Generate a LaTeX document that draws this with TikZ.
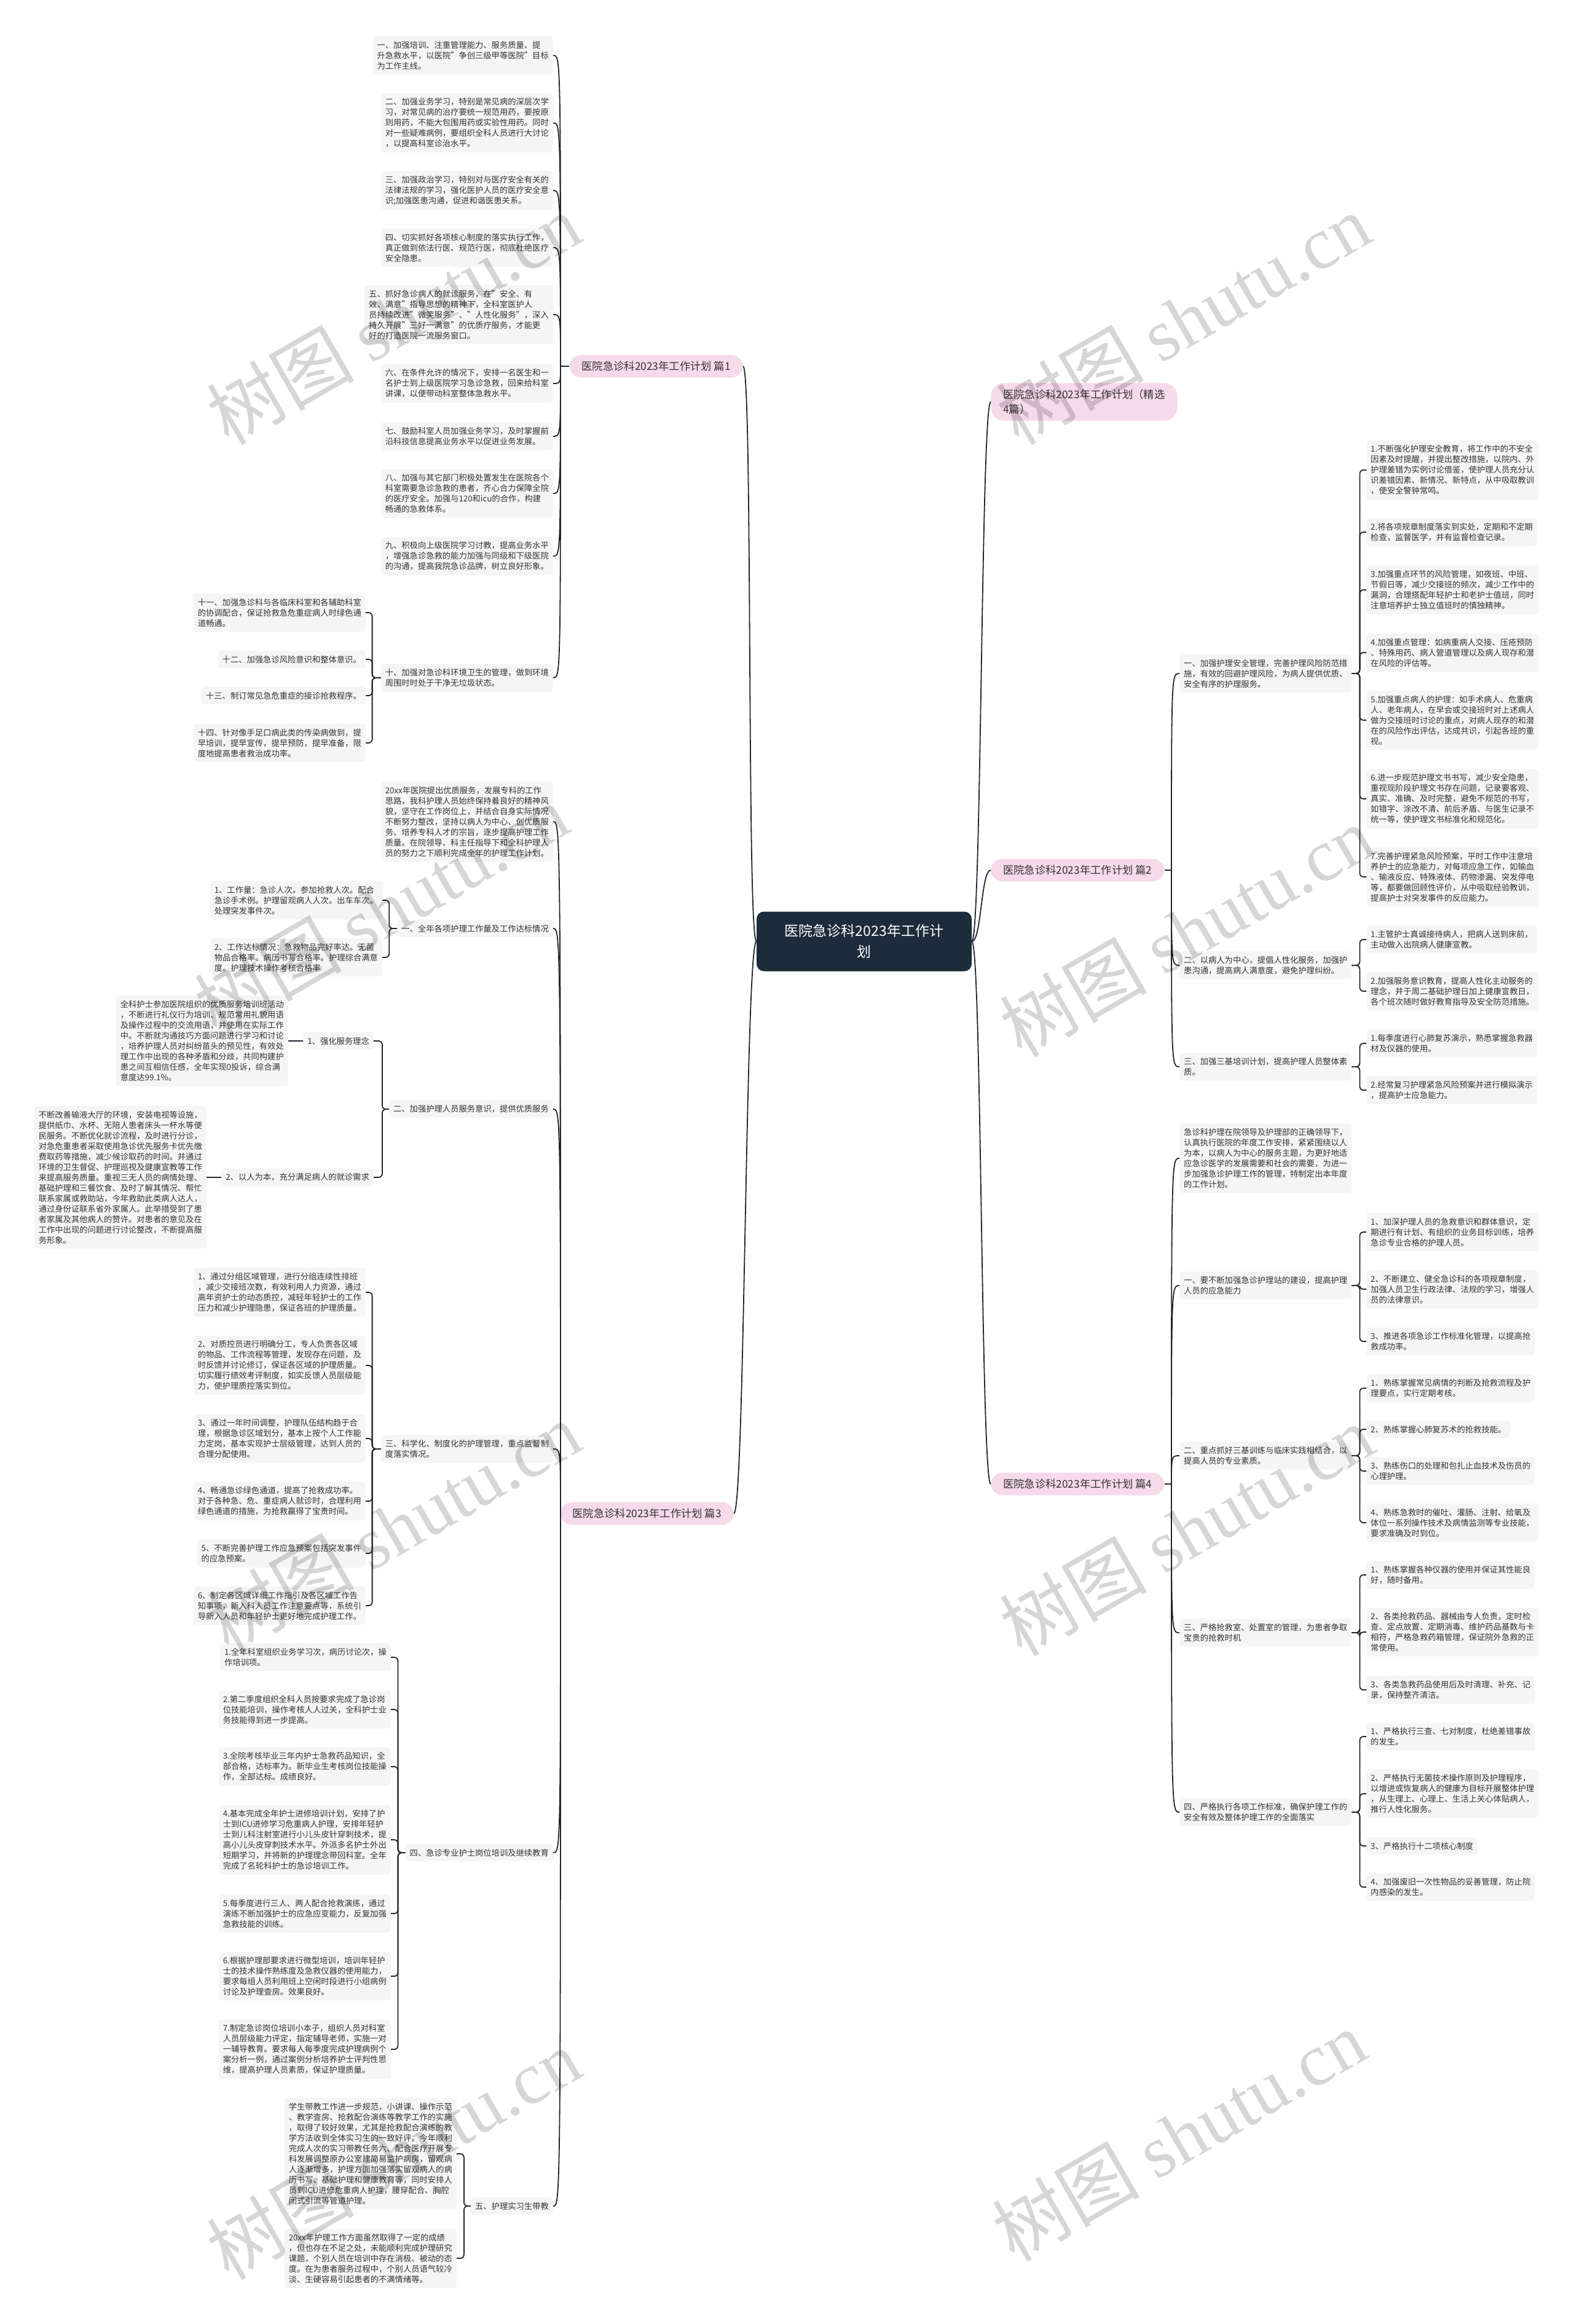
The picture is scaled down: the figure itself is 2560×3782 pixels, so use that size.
\documentclass[tikz,border=0pt]{standalone}
\usepackage{fontspec}
\setmainfont{Noto Sans CJK SC}
\newfontfamily\wmcjk{Noto Sans CJK SC}
\newfontfamily\wmlat{Liberation Serif}
\definecolor{boxgray}{HTML}{F5F5F5}
\definecolor{pinkc}{HTML}{F6DAEA}
\definecolor{navyc}{HTML}{1E2B3B}
\definecolor{linec}{HTML}{1F2630}
\definecolor{textc}{HTML}{333333}
\tikzset{
  leaf/.style={fill=boxgray, rounded corners=5pt, inner xsep=7pt, inner ysep=8pt, align=left, text=textc, font=\fontsize{13.3}{17}\selectfont},
  leafL/.style={leaf, anchor=east},
  leafR/.style={leaf, anchor=west},
  pill/.style={fill=pinkc, rounded corners=19pt, inner xsep=20pt, inner ysep=10.3pt, text=textc, font=\fontsize{17.3}{24}\selectfont},
  rootbox/.style={fill=navyc, text=white, rounded corners=12pt, minimum width=350pt, minimum height=97pt, align=center, font=\fontsize{23}{34}\selectfont},
  conn/.style={draw=linec, line width=1.8pt},
  brk/.style={conn, rounded corners=6pt},
  wm/.style={rotate=30, text=black, text opacity=0.16, font=\fontsize{120}{120}\selectfont}
}
\begin{document}
\begin{tikzpicture}[x=1pt,y=-1pt]
\fill[white] (0,0) rectangle (2560,3782);
\useasboundingbox (0,0) rectangle (2560,3782);

% ---------- root and branches ----------
\node[rootbox] (root) at (1406,1532) {医院急诊科2023年工作计\\划};
\node[pill, anchor=east] (p1) at (1209,596) {医院急诊科2023年工作计划 篇1};
\node[pill, anchor=east] (p3) at (1194,2463) {医院急诊科2023年工作计划 篇3};
\node[pill, anchor=west, align=left, rounded corners=21pt] (p0) at (1612,654) {医院急诊科2023年工作计划（精选\\4篇）};
\node[pill, anchor=west] (p2) at (1612,1416) {医院急诊科2023年工作计划 篇2};
\node[pill, anchor=west] (p4) at (1612,2415) {医院急诊科2023年工作计划 篇4};

% ---------- 篇1 ----------
\node[leafL] (a1) at (900,90) {一、加强培训、注重管理能力、服务质量、提\\升急救水平，以医院"争创三级甲等医院"目标\\为工作主线。};
\node[leafL] (a2) at (900,200) {二、加强业务学习，特别是常见病的深层次学\\习，对常见病的治疗要统一规范用药，要按原\\则用药，不能大包围用药或实验性用药。同时\\对一些疑难病例，要组织全科人员进行大讨论\\，以提高科室诊治水平。};
\node[leafL] (a3) at (900,310) {三、加强政治学习，特别对与医疗安全有关的\\法律法规的学习，强化医护人员的医疗安全意\\识;加强医患沟通，促进和谐医患关系。};
\node[leafL] (a4) at (900,403) {四、切实抓好各项核心制度的落实执行工作，\\真正做到依法行医、规范行医，彻底杜绝医疗\\安全隐患。};
\node[leafL] (a5) at (900,512) {五、抓好急诊病人的就诊服务，在"安全、有\\效、满意"指导思想的精神下，全科室医护人\\员持续改进"微笑服务"、"人性化服务"，深入\\持久开展"三好一满意"的优质疗服务，才能更\\好的打造医院一流服务窗口。};
\node[leafL] (a6) at (900,624) {六、在条件允许的情况下，安排一名医生和一\\名护士到上级医院学习急诊急救，回来给科室\\讲课，以便带动科室整体急救水平。};
\node[leafL] (a7) at (900,710) {七、鼓励科室人员加强业务学习，及时掌握前\\沿科技信息提高业务水平以促进业务发展。};
\node[leafL] (a8) at (900,803) {八、加强与其它部门积极处置发生在医院各个\\科室需要急诊急救的患者，齐心合力保障全院\\的医疗安全。加强与120和icu的合作，构建\\畅通的急救体系。};
\node[leafL] (a9) at (900,905) {九、积极向上级医院学习讨教，提高业务水平\\，增强急诊急救的能力加强与同级和下级医院\\的沟通，提高我院急诊品牌，树立良好形象。};
\node[leafL] (a10) at (900,1103) {十、加强对急诊科环境卫生的管理，做到环境\\周围时时处于干净无垃圾状态。};
\node[leafL] (a11) at (595,997) {十一、加强急诊科与各临床科室和各辅助科室\\的协调配合，保证抢救急危重症病人时绿色通\\道畅通。};
\node[leafL] (a12) at (595,1073) {十二、加强急诊风险意识和整体意识。};
\node[leafL] (a13) at (595,1132) {十三、制订常见急危重症的接诊抢救程序。};
\node[leafL] (a14) at (595,1209) {十四、针对像手足口病此类的传染病做到，提\\早培训，提早宣传，提早预防，提早准备，限\\度地提高患者救治成功率。};

% ---------- 篇3 ----------
\node[leafL] (c0) at (900,1337) {20xx年医院提出优质服务，发展专科的工作\\思路，我科护理人员始终保持着良好的精神风\\貌，坚守在工作岗位上，并结合自身实际情况\\不断努力整改，坚持以病人为中心、创优质服\\务、培养专科人才的宗旨，逐步提高护理工作\\质量。在院领导、科主任指导下和全科护理人\\员的努力之下顺利完成全年的护理工作计划。};
\node[leafL] (c1) at (900,1511) {一、全年各项护理工作量及工作达标情况};
\node[leafL] (c11) at (622,1465) {1、工作量：急诊人次。参加抢救人次。配合\\急诊手术例。护理留观病人人次。出车车次。\\处理突发事件次。};
\node[leafL] (c12) at (622,1558) {2、工作达标情况：急救物品完好率达。无菌\\物品合格率。病历书写合格率。护理综合满意\\度。护理技术操作考核合格率};
\node[leafL] (c2) at (900,1805) {二、加强护理人员服务意识，提供优质服务};
\node[leafL] (c21) at (608,1694) {1、强化服务理念};
\node[leafL] (c211) at (469,1694) {全科护士参加医院组织的优质服务培训班活动\\，不断进行礼仪行为培训、规范常用礼貌用语\\及操作过程中的交流用语，并使用在实际工作\\中。不断就沟通技巧方面问题进行学习和讨论\\，培养护理人员对纠纷苗头的预见性，有效处\\理工作中出现的各种矛盾和分歧，共同构建护\\患之间互相信任感，全年实现0投诉，综合满\\意度达99.1\%。};
\node[leafL] (c22) at (608,1916) {2、以人为本，充分满足病人的就诊需求};
\node[leafL] (c221) at (336,1916) {不断改善输液大厅的环境，安装电视等设施，\\提供纸巾、水杯、无陪人患者床头一杯水等便\\民服务。不断优化就诊流程，及时进行分诊，\\对急危重患者采取使用急诊优先服务卡优先缴\\费取药等措施，减少候诊取药的时间。并通过\\环境的卫生督促、护理巡视及健康宣教等工作\\来提高服务质量。重视三无人员的病情处理、\\基础护理和三餐饮食、及时了解其情况、帮忙\\联系家属或救助站，今年救助此类病人达人，\\通过身份证联系省外家属人。此举措受到了患\\者家属及其他病人的赞许。对患者的意见及在\\工作中出现的问题进行讨论整改，不断提高服\\务形象。};
\node[leafL] (c3) at (900,2358) {三、科学化、制度化的护理管理，重点监督制\\度落实情况。};
\node[leafL] (c31) at (595,2103) {1、通过分组区域管理，进行分组连续性排班\\，减少交接班次数，有效利用人力资源，通过\\高年资护士的动态质控，减轻年轻护士的工作\\压力和减少护理隐患，保证各班的护理质量。};
\node[leafL] (c32) at (595,2222) {2、对质控员进行明确分工，专人负责各区域\\的物品、工作流程等管理，发现存在问题，及\\时反馈并讨论修订，保证各区域的护理质量。\\切实履行绩效考评制度，如实反馈人员层级能\\力，使护理质控落实到位。};
\node[leafL] (c33) at (595,2341) {3、通过一年时间调整，护理队伍结构趋于合\\理，根据急诊区域划分，基本上按个人工作能\\力定岗，基本实现护士层级管理，达到人员的\\合理分配使用。};
\node[leafL] (c34) at (595,2443) {4、畅通急诊绿色通道，提高了抢救成功率。\\对于各种急、危、重症病人就诊时，合理利用\\绿色通道的措施，为抢救赢得了宝贵时间。};
\node[leafL] (c35) at (595,2528) {5、不断完善护理工作应急预案包括突发事件\\的应急预案。};
\node[leafL] (c36) at (595,2613) {6、制定各区域详细工作指引及各区域工作告\\知事项，新入科人员工作注意要点等，系统引\\导新入人员和年轻护士更好地完成护理工作。};
\node[leafL] (c4) at (900,3015) {四、急诊专业护士岗位培训及继续教育};
\node[leafL] (c41) at (636,2697) {1.全年科室组织业务学习次，病历讨论次，操\\作培训项。};
\node[leafL] (c42) at (636,2782) {2.第二季度组织全科人员按要求完成了急诊岗\\位技能培训，操作考核人人过关，全科护士业\\务技能得到进一步提高。};
\node[leafL] (c43) at (636,2875) {3.全院考核毕业三年内护士急救药品知识，全\\部合格，达标率为。新毕业生考核岗位技能操\\作，全部达标。成绩良好。};
\node[leafL] (c44) at (636,2994) {4.基本完成全年护士进修培训计划，安排了护\\士到ICU进修学习危重病人护理，安排年轻护\\士到儿科注射室进行小儿头皮针穿刺技术，提\\高小儿头皮穿刺技术水平。外派多名护士外出\\短期学习，并将新的护理理念带回科室。全年\\完成了名轮科护士的急诊培训工作。};
\node[leafL] (c45) at (636,3114) {5.每季度进行三人、两人配合抢救演练，通过\\演练不断加强护士的应急应变能力，反复加强\\急救技能的训练。};
\node[leafL] (c46) at (636,3216) {6.根据护理部要求进行微型培训，培训年轻护\\士的技术操作熟练度及急救仪器的使用能力，\\要求每组人员利用班上空闲时段进行小组病例\\讨论及护理查房。效果良好。};
\node[leafL] (c47) at (636,3335) {7.制定急诊岗位培训小本子，组织人员对科室\\人员层级能力评定，指定辅导老师，实施一对\\一辅导教育。要求每人每季度完成护理病例个\\案分析一例，通过案例分析培养护士评判性思\\维，提高护理人员素质，保证护理质量。};
\node[leafL] (c5) at (900,3590) {五、护理实习生带教};
\node[leafL] (c51) at (743,3505) {学生带教工作进一步规范，小讲课、操作示范\\、教学查房、抢救配合演练等教学工作的实施\\，取得了较好效果，尤其是抢救配合演练的教\\学方法收到全体实习生的一致好评。今年顺利\\完成人次的实习带教任务六、配合医疗开展专\\科发展调整原办公室建简易监护病房，留观病\\人逐渐增多，护理方面加强落实留观病人的病\\历书写、基础护理和健康教育等，同时安排人\\员到ICU进修危重病人护理，腰穿配合、胸腔\\闭式引流等管道护理。};
\node[leafL] (c52) at (743,3675) {20xx年护理工作方面虽然取得了一定的成绩\\，但也存在不足之处，未能顺利完成护理研究\\课题，个别人员在培训中存在消极、被动的态\\度。在为患者服务过程中，个别人员语气较冷\\淡、生硬容易引起患者的不满情绪等。};

% ---------- 篇2 ----------
\node[leafR] (b1) at (1919,1096) {一、加强护理安全管理，完善护理风险防范措\\施，有效的回避护理风险，为病人提供优质、\\安全有序的护理服务。};
\node[leafR] (b11) at (2223,765) {1.不断强化护理安全教育，将工作中的不安全\\因素及时提醒，并提出整改措施，以院内、外\\护理差错为实例讨论借鉴，使护理人员充分认\\识差错因素、新情况、新特点，从中吸取教训\\，使安全警钟常鸣。};
\node[leafR] (b12) at (2223,866) {2.将各项规章制度落实到实处，定期和不定期\\检查，监督医学，并有监督检查记录。};
\node[leafR] (b13) at (2223,960) {3.加强重点环节的风险管理，如夜班、中班、\\节假日等，减少交接班的频次，减少工作中的\\漏洞，合理搭配年轻护士和老护士值班，同时\\注意培养护士独立值班时的慎独精神。};
\node[leafR] (b14) at (2223,1062) {4.加强重点管理：如病重病人交接、压疮预防\\、特殊用药、病人管道管理以及病人现存和潜\\在风险的评估等。};
\node[leafR] (b15) at (2223,1172) {5.加强重点病人的护理：如手术病人、危重病\\人、老年病人，在早会或交接班时对上述病人\\做为交接班时讨论的重点，对病人现存的和潜\\在的风险作出评估，达成共识，引起各班的重\\视。};
\node[leafR] (b16) at (2223,1300) {6.进一步规范护理文书书写，减少安全隐患，\\重视现阶段护理文书存在问题，记录要客观、\\真实、准确、及时完整，避免不规范的书写，\\如错字、涂改不清、前后矛盾、与医生记录不\\统一等，使护理文书标准化和规范化。};
\node[leafR] (b17) at (2223,1427) {7.完善护理紧急风险预案，平时工作中注意培\\养护士的应急能力，对每项应急工作，如输血\\、输液反应、特殊液体、药物渗漏、突发停电\\等，都要做回顾性评价，从中吸取经验教训，\\提高护士对突发事件的反应能力。};
\node[leafR] (b2) at (1919,1571) {二、以病人为中心，提倡人性化服务，加强护\\患沟通，提高病人满意度，避免护理纠纷。};
\node[leafR] (b21) at (2223,1529) {1.主管护士真诚接待病人，把病人送到床前，\\主动做入出院病人健康宣教。};
\node[leafR] (b22) at (2223,1613) {2.加强服务意识教育，提高人性化主动服务的\\理念，并于周二基础护理日加上健康宣教日，\\各个班次随时做好教育指导及安全防范措施。};
\node[leafR] (b3) at (1919,1736) {三、加强三基培训计划，提高护理人员整体素\\质。};
\node[leafR] (b31) at (2223,1698) {1.每季度进行心肺复苏演示，熟悉掌握急救器\\材及仪器的使用。};
\node[leafR] (b32) at (2223,1774) {2.经常复习护理紧急风险预案并进行模拟演示\\，提高护士应急能力。};

% ---------- 篇4 ----------
\node[leafR] (d0) at (1919,1885) {急诊科护理在院领导及护理部的正确领导下，\\认真执行医院的年度工作安排，紧紧围绕以人\\为本，以病人为中心的服务主题，为更好地适\\应急诊医学的发展需要和社会的需要，为进一\\步加强急诊护理工作的管理，特制定出本年度\\的工作计划。};
\node[leafR] (d1) at (1919,2092) {一、要不断加强急诊护理站的建设，提高护理\\人员的应急能力};
\node[leafR] (d11) at (2223,2005) {1、加深护理人员的急救意识和群体意识，定\\期进行有计划、有组织的业务目标训练，培养\\急诊专业合格的护理人员。};
\node[leafR] (d12) at (2223,2098) {2、不断建立、健全急诊科的各项规章制度，\\加强人员卫生行政法律、法规的学习，增强人\\员的法律意识。};
\node[leafR] (d13) at (2223,2183) {3、推进各项急诊工作标准化管理，以提高抢\\救成功率。};
\node[leafR] (d2) at (1919,2369) {二、重点抓好三基训练与临床实践相结合，以\\提高人员的专业素质。};
\node[leafR] (d21) at (2223,2259) {1、熟练掌握常见病情的判断及抢救流程及护\\理要点，实行定期考核。};
\node[leafR] (d22) at (2223,2326) {2、熟练掌握心肺复苏术的抢救技能。};
\node[leafR] (d23) at (2223,2394) {3、熟练伤口的处理和包扎止血技术及伤员的\\心理护理。};
\node[leafR] (d24) at (2223,2478) {4、熟练急救时的催吐、灌肠、注射、给氧及\\体位一系列操作技术及病情监测等专业技能，\\要求准确及时到位。};
\node[leafR] (d3) at (1919,2657) {三、严格抢救室、处置室的管理，为患者争取\\宝贵的抢救时机};
\node[leafR] (d31) at (2223,2563) {1、熟练掌握各种仪器的使用并保证其性能良\\好，随时备用。};
\node[leafR] (d32) at (2223,2656) {2、各类抢救药品、器械由专人负责，定时检\\查、定点放置、定期消毒、维护药品基数与卡\\相符，严格急救药箱管理，保证院外急救的正\\常使用。};
\node[leafR] (d33) at (2223,2750) {3、各类急救药品使用后及时清理、补充、记\\录，保持整齐清洁。};
\node[leafR] (d4) at (1919,2949) {四、严格执行各项工作标准，确保护理工作的\\安全有效及整体护理工作的全面落实};
\node[leafR] (d41) at (2223,2826) {1、严格执行三查、七对制度，杜绝差错事故\\的发生。};
\node[leafR] (d42) at (2223,2919) {2、严格执行无菌技术操作原则及护理程序，\\以增进或恢复病人的健康为目标开展整体护理\\，从生理上、心理上、生活上关心体贴病人，\\推行人性化服务。};
\node[leafR] (d43) at (2223,3004) {3、严格执行十二项核心制度};
\node[leafR] (d44) at (2223,3071) {4、加强废旧一次性物品的妥善管理，防止院\\内感染的发生。};

% ---------- connectors: root to branches ----------
\draw[conn] (root.west) .. controls +(-16,0) and +(16,0) .. (p1.east);
\draw[conn] (root.west) .. controls +(-18,0) and +(18,0) .. (p3.east);
\draw[conn] (root.east) .. controls +(16,0) and +(-16,0) .. (p0.west);
\draw[conn] (root.east) .. controls +(16,0) and +(-16,0) .. (p2.west);
\draw[conn] (root.east) .. controls +(16,0) and +(-16,0) .. (p4.west);

% ---------- trunks ----------
\coordinate (t1) at (912,596);
\coordinate (t3) at (912,2463);
\coordinate (t2) at (1906,1416);
\coordinate (t4) at (1906,2415);
\draw[conn] (p1.west) -- (t1);
\draw[conn] (p3.west) -- (t3);
\draw[conn] (p2.east) -- (t2);
\draw[conn] (p4.east) -- (t4);
\foreach \n in {a1,a2,a3,a4,a5,a6,a7,a8,a9,a10}
  \draw[conn] (t1) .. controls (t1 |- \n.east) .. (\n.east);
\foreach \n in {c0,c1,c2,c3,c4,c5}
  \draw[conn] (t3) .. controls (t3 |- \n.east) .. (\n.east);
\foreach \n in {b1,b2,b3}
  \draw[conn] (t2) .. controls (t2 |- \n.west) .. (\n.west);
\foreach \n in {d0,d1,d2,d3,d4}
  \draw[conn] (t4) .. controls (t4 |- \n.west) .. (\n.west);

% ---------- brackets ----------
\foreach \n in {a11,a12,a13,a14}
  \draw[brk] (a10.west) -- ++(-14,0) |- (\n.east);
\foreach \n in {c11,c12}
  \draw[brk] (c1.west) -- ++(-13,0) |- (\n.east);
\foreach \n in {c21,c22}
  \draw[brk] (c2.west) -- ++(-11,0) |- (\n.east);
\draw[conn] (c21.west) -- (c211.east);
\draw[conn] (c22.west) -- (c221.east);
\foreach \n in {c31,c32,c33,c34,c35,c36}
  \draw[brk] (c3.west) -- ++(-14,0) |- (\n.east);
\foreach \n in {c41,c42,c43,c44,c45,c46,c47}
  \draw[brk] (c4.west) -- ++(-12,0) |- (\n.east);
\foreach \n in {c51,c52}
  \draw[brk] (c5.west) -- ++(-11,0) |- (\n.east);
\foreach \n in {b11,b12,b13,b14,b15,b16,b17}
  \draw[brk] (b1.east) -- ++(13,0) |- (\n.west);
\foreach \n in {b21,b22}
  \draw[brk] (b2.east) -- ++(13,0) |- (\n.west);
\foreach \n in {b31,b32}
  \draw[brk] (b3.east) -- ++(13,0) |- (\n.west);
\foreach \n in {d11,d12,d13}
  \draw[brk] (d1.east) -- ++(13,0) |- (\n.west);
\foreach \n in {d21,d22,d23,d24}
  \draw[brk] (d2.east) -- ++(13,0) |- (\n.west);
\foreach \n in {d31,d32,d33}
  \draw[brk] (d3.east) -- ++(13,0) |- (\n.west);
\foreach \n in {d41,d42,d43,d44}
  \draw[brk] (d4.east) -- ++(13,0) |- (\n.west);

% ---------- watermarks ----------
\foreach \x/\y [count=\i] in {640/519, 1925/519, 620/1480, 1930/1515, 640/2485, 1930/2490, 640/3505, 1918/3475}
  \node[wm] (wm\i) at (\x,\y) {{\wmcjk 树图} {\wmlat shutu.cn}};
\end{tikzpicture}
\end{document}
